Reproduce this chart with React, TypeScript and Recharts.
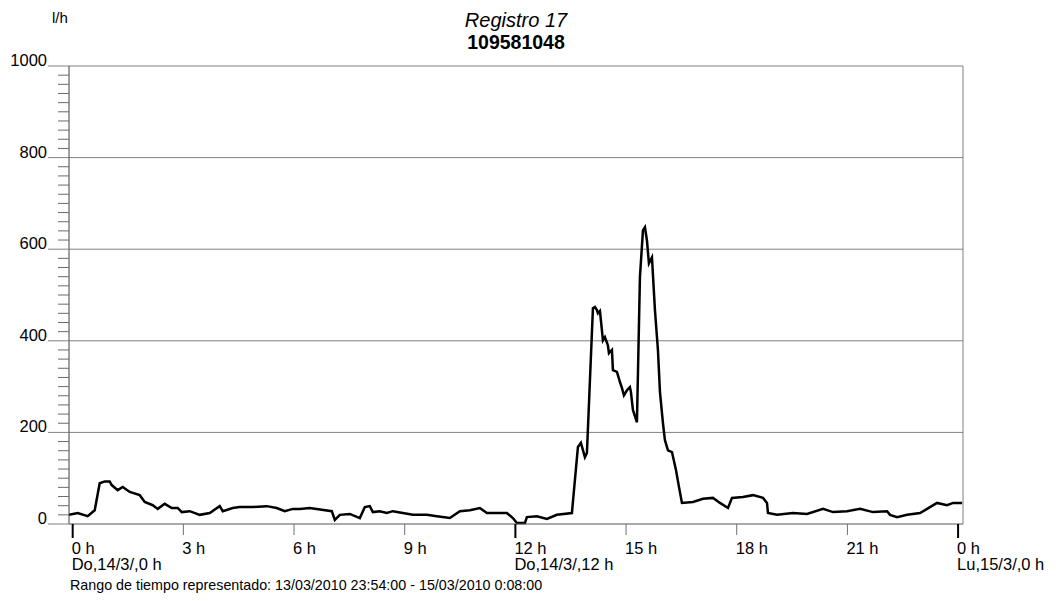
import React from "react";
import { LineChart, Line, XAxis, YAxis, ReferenceLine } from "recharts";

// Flow record, hours from 14/03 0:00
const HOURS = [
  -0.1, 0.136, 0.407, 0.597, 0.732, 0.868, 1.003, 1.058, 1.22, 1.356, 1.546, 1.817, 1.953,
  2.17, 2.305, 2.495, 2.685, 2.847, 2.956, 3.173, 3.444, 3.715, 3.986, 4.068, 4.339, 4.529,
  4.881, 5.261, 5.532, 5.749, 5.966, 6.156, 6.427, 7.024, 7.105, 7.241, 7.512, 7.783, 7.919,
  8.054, 8.136, 8.325, 8.515, 8.678, 8.949, 9.22, 9.6, 9.871, 10.224, 10.495, 10.766, 11.037,
  11.227, 11.498, 11.769, 11.932, 12.041, 12.258, 12.312, 12.583, 12.854, 13.125, 13.532,
  13.695, 13.776, 13.885, 13.939, 14.102, 14.156, 14.21, 14.237, 14.292, 14.346, 14.373,
  14.427, 14.508, 14.536, 14.617, 14.644, 14.753, 14.834, 14.888, 14.942, 15.024, 15.105,
  15.132, 15.186, 15.295, 15.376, 15.458, 15.512, 15.566, 15.62, 15.702, 15.783, 15.864,
  15.919, 16.0, 16.054, 16.136, 16.244, 16.353, 16.434, 16.515, 16.814, 17.085, 17.356,
  17.546, 17.763, 17.871, 18.169, 18.44, 18.712, 18.82, 18.847, 19.091, 19.525, 19.905,
  20.339, 20.61, 20.99, 21.342, 21.695, 22.075, 22.156, 22.346, 22.617, 22.969, 23.159,
  23.43, 23.702, 23.864, 24.108,
];

// Caudal in l/h
const FLOW = [
  20, 24, 17, 30, 89, 93, 93, 85, 74, 81, 70, 63, 48,
  41, 33, 44, 35, 35, 26, 28, 20, 24, 39, 28, 35, 37,
  37, 39, 35, 28, 33, 33, 35, 28, 9, 20, 22, 13, 37,
  39, 26, 28, 24, 28, 24, 20, 20, 17, 13, 28, 30, 35,
  24, 24, 24, 13, 2, 2, 15, 17, 11, 20, 24,
  168, 177, 146, 155, 471, 474, 467, 460, 465, 423, 401,
  408, 390, 373, 380, 336, 332, 310, 297, 281, 292, 299,
  288, 249, 222, 539, 641, 648, 619, 569, 582, 467, 380,
  288, 220, 183, 161, 157, 118, 81, 46, 48, 55, 57,
  46, 35, 57, 59, 63, 57, 46, 24, 20, 24, 22,
  33, 26, 28, 33, 26, 28, 20, 15, 20, 24, 33,
  46, 41, 46, 46,
];

const X_DOMAIN: [number, number] = [-0.1, 24.1333]; // 13/03 23:54 -> 15/03 0:08
const X_TICKS = [0, 3, 6, 9, 12, 15, 18, 21, 24];
const X_TICK_LABELS = ["0 h", "3 h", "6 h", "9 h", "12 h", "15 h", "18 h", "21 h", "0 h"];
const X_DAY_LABELS: Record<number, string> = {
  0: "Do,14/3/,0 h",
  12: "Do,14/3/,12 h",
  24: "Lu,15/3/,0 h",
};

const Y_MAJOR = [0, 200, 400, 600, 800, 1000];
const Y_MINOR_STEP = 20;
const Y_TICKS: number[] = [];
for (let v = 0; v <= 1000; v += Y_MINOR_STEP) Y_TICKS.push(v);

const TITLE = "Registro 17";
const SUBTITLE = "109581048";
const UNIT = "l/h";
const RANGE_TEXT =
  "Rango de tiempo representado: 13/03/2010 23:54:00 - 15/03/2010 0:08:00";

const FONT = "'Liberation Sans', Arial, sans-serif";
const W = 1040;
const H = 585;

const data = HOURS.map((h, i) => ({ h, q: FLOW[i] }));

function YTick(props: any) {
  const { x, y, payload } = props;
  const v = payload.value as number;
  if (Y_MAJOR.includes(v)) {
    return (
      <g>
        <line x1={x - 21} x2={x} y1={y} y2={y} stroke="#808080" strokeWidth={1} />
        <text x={x - 22} y={y} textAnchor="end" fontFamily={FONT} fontSize={16.5} fill="#000">
          {v}
        </text>
      </g>
    );
  }
  return <line x1={x - 11} x2={x} y1={y} y2={y} stroke="#6a6a6a" strokeWidth={1} />;
}

function XTick(props: any) {
  const { x, y, payload, index } = props;
  const v = payload.value as number;
  const day = X_DAY_LABELS[v];
  const label = X_TICK_LABELS[X_TICKS.indexOf(v)] ?? X_TICK_LABELS[index];
  return (
    <g>
      {day ? (
        <line x1={x} x2={x} y1={y} y2={y + 14} stroke="#000" strokeWidth={2} />
      ) : (
        <line x1={x} x2={x} y1={y} y2={y + 11} stroke="#707070" strokeWidth={1} />
      )}
      <text x={x - 1} y={y + 30} textAnchor="start" fontFamily={FONT} fontSize={16.5} fill="#000">
        {label}
      </text>
      {day && (
        <text x={x - 1} y={y + 46} textAnchor="start" fontFamily={FONT} fontSize={16.5} fill="#000">
          {day}
        </text>
      )}
    </g>
  );
}

export default function App() {
  return (
    <div style={{ position: "relative", width: W, height: H, background: "#fff" }}>
      <LineChart
        width={W}
        height={H}
        data={data}
        margin={{ top: 58, right: 85, bottom: 0, left: 0 }}
      >
        {Y_MAJOR.filter((v) => v > 0).map((v) => (
          <ReferenceLine key={v} y={v} stroke="#808080" strokeWidth={1} />
        ))}
        <ReferenceLine x={X_DOMAIN[1]} stroke="#808080" strokeWidth={1} />
        <XAxis
          dataKey="h"
          type="number"
          domain={X_DOMAIN}
          allowDataOverflow
          ticks={X_TICKS}
          interval={0}
          height={69}
          tickSize={0}
          tickMargin={0}
          tickLine={false}
          axisLine={{ stroke: "#555", strokeWidth: 1 }}
          tick={<XTick />}
        />
        <YAxis
          type="number"
          domain={[0, 1000]}
          ticks={Y_TICKS}
          interval={0}
          width={61}
          tickSize={0}
          tickMargin={0}
          tickLine={false}
          axisLine={{ stroke: "#404040", strokeWidth: 1 }}
          tick={<YTick />}
        />
        <Line
          type="linear"
          dataKey="q"
          stroke="#000"
          strokeWidth={2.5}
          dot={false}
          isAnimationActive={false}
        />
      </LineChart>
      <svg
        width={W}
        height={H}
        style={{ position: "absolute", left: 0, top: 0, pointerEvents: "none" }}
      >
        <text x={44} y={15} fontFamily={FONT} fontSize={15} fill="#000">
          {UNIT}
        </text>
        <text x={508} y={19} textAnchor="middle" fontFamily={FONT} fontSize={20} fontStyle="italic" fill="#000">
          {TITLE}
        </text>
        <text x={508} y={41} textAnchor="middle" fontFamily={FONT} fontSize={19.5} fontWeight="bold" fill="#000">
          {SUBTITLE}
        </text>
        <text x={62} y={582} fontFamily={FONT} fontSize={14.3} fill="#000">
          {RANGE_TEXT}
        </text>
      </svg>
    </div>
  );
}
